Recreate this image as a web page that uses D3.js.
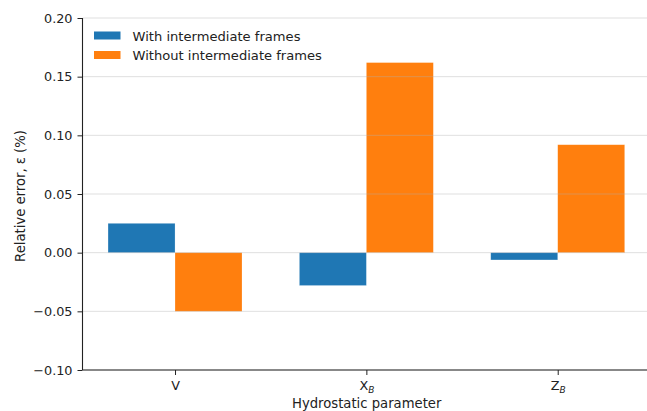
<!DOCTYPE html>
<html>
<head>
<meta charset="utf-8">
<script src="https://cdn.jsdelivr.net/npm/d3@7"></script>
<style>
  html, body { margin: 0; padding: 0; background: #fff; }
  svg { display: block; font-family: "DejaVu Sans", sans-serif; }
</style>
</head>
<body>
<svg id="chart" width="647" height="411"></svg>
<script>
// Hydrostatic parameters compared
const categories = [
  { main: "V", sub: "" },
  { main: "X", sub: "B" },
  { main: "Z", sub: "B" }
];
const seriesNames = ["With intermediate frames", "Without intermediate frames"];
const withFrames = [0.025, -0.028, -0.0062];
const withoutFrames = [-0.050, 0.162, 0.092];
const yTicks = [-0.10, -0.05, 0.00, 0.05, 0.10, 0.15, 0.20];
const colors = ["#1f77b4", "#ff7f0e"];

const svg = d3.select("#chart");
const W = 647, H = 411;
const margin = { left: 82.5, top: 18, bottom: 41 };
const barWidth = 0.35;

// Category index scale with a small margin on both sides
const x = d3.scaleLinear()
  .domain([-0.4835, 2.4835])
  .range([margin.left, margin.left + 2.967 * 191.35]);
const y = d3.scaleLinear()
  .domain([-0.10, 0.20])
  .range([H - margin.bottom, margin.top]);

const fmt = d => d3.format(".2f")(d).replace("-", "\u2212");

// Bars
const series = [withFrames, withoutFrames];
series.forEach((vals, s) => {
  const offset = s === 0 ? -barWidth : 0;
  svg.append("g").selectAll("rect")
    .data(vals)
    .join("rect")
    .attr("x", (d, i) => x(i + offset))
    .attr("width", x(barWidth) - x(0))
    .attr("y", d => y(Math.max(0, d)))
    .attr("height", d => Math.abs(y(d) - y(0)))
    .attr("fill", colors[s])
    .attr("stroke", "#ffffff")
    .attr("stroke-opacity", 0.35)
    .attr("stroke-width", 0.6);
});

// Horizontal grid lines over the bars
svg.append("g").selectAll("line")
  .data(yTicks)
  .join("line")
  .attr("x1", margin.left)
  .attr("x2", W)
  .attr("y1", d => y(d))
  .attr("y2", d => y(d))
  .attr("stroke", "#b0b0b0")
  .attr("stroke-opacity", 0.5)
  .attr("stroke-width", 0.8);

// Y axis
const yAxis = svg.append("g")
  .attr("transform", `translate(${margin.left},0)`)
  .call(d3.axisLeft(y).tickValues(yTicks).tickFormat(fmt).tickSize(5).tickPadding(5));
yAxis.select(".domain").attr("stroke", "#222").attr("stroke-width", 1.1)
  .attr("d", `M0,${y(-0.10)}V${y(0.20)}`);
yAxis.selectAll(".tick line").attr("stroke", "#222").attr("stroke-width", 1);
yAxis.selectAll(".tick text").attr("font-size", 12.8).attr("fill", "#222")
  .attr("font-family", "DejaVu Sans, sans-serif");

// X axis
const xAxis = svg.append("g")
  .attr("transform", `translate(0,${y(-0.10)})`)
  .call(d3.axisBottom(x).tickValues([0, 1, 2]).tickFormat("").tickSize(5));
xAxis.select(".domain").attr("stroke", "#222").attr("stroke-width", 1.1)
  .attr("d", `M${margin.left},0H${W}`);
xAxis.selectAll(".tick line").attr("stroke", "#222").attr("stroke-width", 1);
xAxis.selectAll(".tick").each(function(d) {
  const c = categories[d];
  const t = d3.select(this).append("text")
    .attr("y", 20)
    .attr("text-anchor", "middle")
    .attr("font-size", 12.8)
    .attr("fill", "#222")
    .attr("font-family", "DejaVu Sans, sans-serif");
  t.append("tspan").text(c.main);
  if (c.sub) {
    t.append("tspan").text(c.sub)
      .attr("font-size", 9)
      .attr("font-style", "italic")
      .attr("dy", 2.5);
  }
});

// Axis titles
svg.append("text")
  .attr("x", 366.7)
  .attr("y", 408)
  .attr("text-anchor", "middle")
  .attr("font-size", 13.2)
  .attr("fill", "#222")
  .text("Hydrostatic parameter");
svg.append("text")
  .attr("transform", "translate(25,196) rotate(-90)")
  .attr("text-anchor", "middle")
  .attr("font-size", 13.2)
  .attr("fill", "#222")
  .text("Relative error, \u03b5 (%)");

// Legend
const legend = svg.append("g").attr("transform", "translate(94,31.5)");
seriesNames.forEach((name, i) => {
  const g = legend.append("g").attr("transform", `translate(0,${i * 19.5})`);
  g.append("rect").attr("width", 26.5).attr("height", 8).attr("fill", colors[i]);
  g.append("text")
    .attr("x", 38.5)
    .attr("y", 9)
    .attr("font-size", 13.1)
    .attr("fill", "#222")
    .text(name);
});
</script>
</body>
</html>
